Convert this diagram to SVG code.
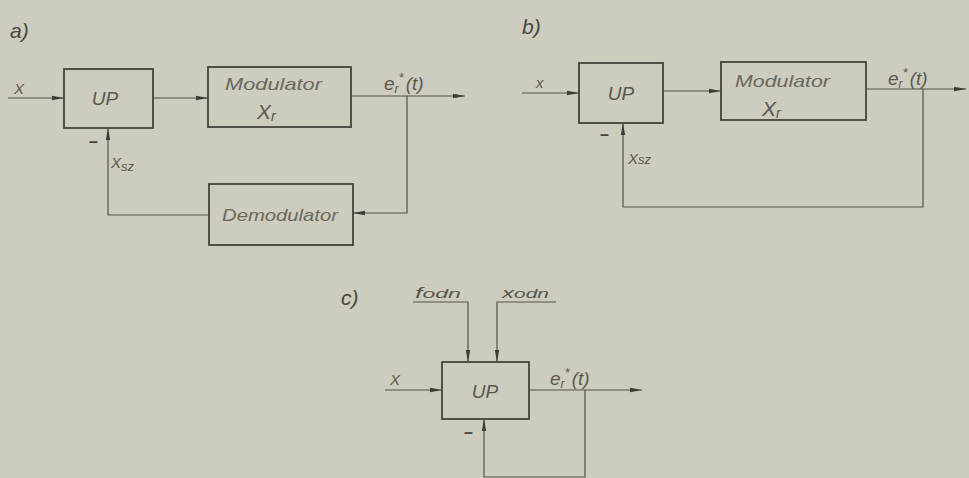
<svg xmlns="http://www.w3.org/2000/svg" width="969" height="478" viewBox="0 0 969 478">
<style>
.box{fill:none;stroke:#45433b;stroke-width:1.8}
.ln{fill:none;stroke:#55534a;stroke-width:1.2}
.arr{marker-end:url(#ah)}
.t{font-family:"Liberation Sans",Arial,sans-serif;font-style:italic;fill:#5a584f}
.lbl{font-size:15px}
.er{font-size:19px}
.up{font-size:19px;text-anchor:middle}
.mod{font-size:17px;fill:#6a685f}
.pan{font-size:21px;fill:#4a483f}
.dash{font-size:16px;font-weight:bold;font-style:normal;fill:#45433b}
</style>
<defs>
<marker id="ah" viewBox="0 0 12 6" refX="12" refY="3" markerWidth="12" markerHeight="6" markerUnits="userSpaceOnUse" orient="auto">
<path d="M0,0.8 L12,3 L0,5.2 z" fill="#3e3c35"/>
</marker>
</defs>
<rect width="969" height="478" fill="#cdccbe"/>

<g id="connectors">
<path class="ln arr" d="M8,98 H64"/>
<path class="ln arr" d="M153,98 H208"/>
<path class="ln arr" d="M351,96 H465"/>
<path class="ln arr" d="M407,96 V213 H353"/>
<path class="ln arr" d="M209,215 H108 V128"/>
<path class="ln arr" d="M522,93 H579"/>
<path class="ln arr" d="M663,91 H721"/>
<path class="ln arr" d="M866,89 H966"/>
<path class="ln arr" d="M923,89 V207 H623 V123"/>
<path class="ln arr" d="M385,390 H442"/>
<path class="ln arr" d="M529,390 H642"/>
<path class="ln arr" d="M585,390 V477 H484 V419"/>
<path class="ln arr" d="M413,302 H468 V362"/>
<path class="ln arr" d="M556,302 H497 V362"/>
</g>

<g id="labels">
<text class="t pan" x="10" y="38">a)</text>
<text class="t pan" x="522" y="34">b)</text>
<text class="t pan" x="341" y="305">c)</text>
<text class="t lbl" x="14" y="94">X</text>
<text class="t er" x="384" y="90">e<tspan font-size="12" dy="3">r</tspan><tspan font-size="13" dy="-11">*</tspan><tspan dy="8" dx="2">(t)</tspan></text>
<text class="t dash" x="89" y="147">–</text>
<text class="t lbl" x="111" y="168" font-size="16">X<tspan font-size="13" dy="3">sz</tspan></text>
<text class="t lbl" x="536" y="88">x</text>
<text class="t er" x="888" y="85">e<tspan font-size="12" dy="3">r</tspan><tspan font-size="13" dy="-11">*</tspan><tspan dy="8" dx="2">(t)</tspan></text>
<text class="t dash" x="600" y="140">–</text>
<text class="t lbl" x="628" y="164">X<tspan font-size="13">sz</tspan></text>
<text class="t lbl" x="390" y="385">X</text>
<text class="t er" x="550" y="385">e<tspan font-size="12" dy="3">r</tspan><tspan font-size="13" dy="-11">*</tspan><tspan dy="8" dx="2">(t)</tspan></text>
<text class="t dash" x="464" y="438">–</text>
<text class="t" font-size="15" x="415" y="298" textLength="46" lengthAdjust="spacingAndGlyphs">f<tspan font-size="13">odn</tspan></text>
<text class="t" font-size="15" x="502" y="298" textLength="47" lengthAdjust="spacingAndGlyphs">x<tspan font-size="13">odn</tspan></text>
</g>

<g id="a-up"><rect class="box" x="64" y="69" width="89" height="59"/><text class="t up" x="105" y="105">UP</text></g>
<g id="a-modulator"><rect class="box" x="208" y="67" width="143" height="60"/><text class="t mod" x="225" y="90" textLength="97" lengthAdjust="spacingAndGlyphs">Modulator</text><text class="t" font-size="21" x="257" y="119">X<tspan font-size="14" dy="2">r</tspan></text></g>
<g id="a-demodulator"><rect class="box" x="209" y="184" width="144" height="61"/><text class="t mod" x="222" y="221" textLength="116" lengthAdjust="spacingAndGlyphs">Demodulator</text></g>

<g id="b-up"><rect class="box" x="579" y="63" width="84" height="60"/><text class="t up" x="621" y="100">UP</text></g>
<g id="b-modulator"><rect class="box" x="721" y="62" width="145" height="58"/><text class="t mod" x="735" y="87" textLength="95" lengthAdjust="spacingAndGlyphs">Modulator</text><text class="t" font-size="21" x="762" y="116">X<tspan font-size="14" dy="2">r</tspan></text></g>

<g id="c-up"><rect class="box" x="442" y="362" width="87" height="57"/><text class="t up" x="485" y="398">UP</text></g>
</svg>
